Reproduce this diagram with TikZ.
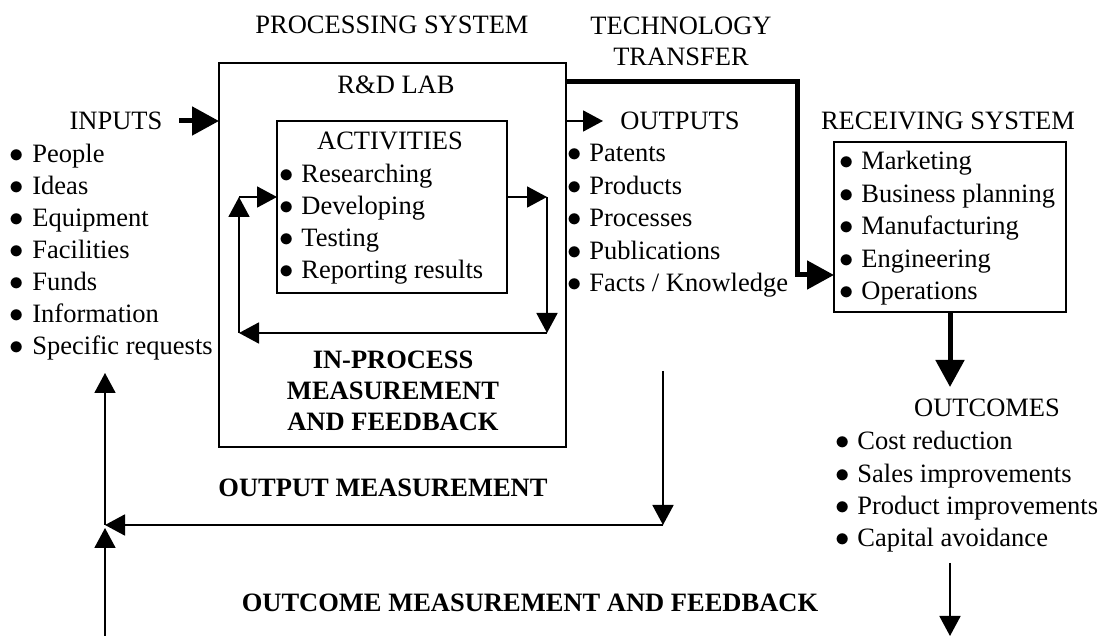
\documentclass[tikz,border=0pt]{standalone}
\usepackage{fontspec}
\setmainfont{Liberation Serif}
\usepackage{tikz}
\usetikzlibrary{arrows.meta, positioning}

\newcommand{\labelfont}{\fontsize{13.25}{16}\selectfont}
\newcommand{\headfont}{\fontsize{13.25}{15.5}\selectfont\bfseries}
\newcommand{\bul}{$\bullet$\hspace{4pt}}

\tikzset{
  box/.style={draw, line width=0.9pt, inner sep=0pt},
  lightarrow/.style={line width=0.9pt, -{Triangle[length=10pt,width=10.5pt]}},
  heavyarrow/.style={line width=2.5pt, -{Triangle[length=13.5pt,width=14pt]}},
  item/.style={anchor=base west},
  title/.style={anchor=base}
}

\begin{document}
\begin{tikzpicture}[x=0.5pt, y=-0.5pt,
    every node/.style={inner sep=0pt, outer sep=0pt, font=\labelfont}]
  \useasboundingbox (0,0) rectangle (1105,636);

  \node[box, minimum width=173.5pt, minimum height=192pt] (lab) at (392.5,255) {};
  \node[box, minimum width=115pt, minimum height=86pt] (act) at (392,207) {};
  \node[box, minimum width=116pt, minimum height=85pt] (recv) at (950,227) {};

  \node[title] (proc) at (392,34) {PROCESSING SYSTEM};
  \node[align=center, font=\fontsize{13.25}{15.5}\selectfont] (tech) at (681,41) {TECHNOLOGY\\TRANSFER};
  \node[title] (rd) at (396,94) {R\&D LAB};
  \node[title] (inputs) at (116,130) {INPUTS};
  \node[title] (outputs) at (680,130) {OUTPUTS};
  \node[title] (recvtitle) at (948,130) {RECEIVING SYSTEM};
  \node[title] (activ) at (390,150) {ACTIVITIES};
  \node[title] (outcomes) at (987,417) {OUTCOMES};
  \node[align=center, font=\headfont] (inproc) at (393,391) {IN-PROCESS\\MEASUREMENT\\AND FEEDBACK};
  \node[title, font=\headfont] (outmeas) at (383,497) {OUTPUT MEASUREMENT};
  \node[title, font=\headfont] (outcmeas) at (530,611) {OUTCOME MEASUREMENT AND FEEDBACK};

  \foreach \txt [count=\i from 0] in {People, Ideas, Equipment, Facilities, Funds, Information, Specific requests}
    \node[item] (in\i) at (10,163+32*\i) {\bul\txt};
  \foreach \txt [count=\i from 0] in {Researching, Developing, Testing, Reporting results}
    \node[item] (ac\i) at (279,183+32*\i) {\bul\txt};
  \foreach \txt [count=\i from 0] in {Patents, Products, Processes, Publications, Facts / Knowledge}
    \node[item] (out\i) at (567,162+32.5*\i) {\bul\txt};
  \foreach \txt [count=\i from 0] in {Marketing, Business planning, Manufacturing, Engineering, Operations}
    \node[item] (rc\i) at (839,170+32.5*\i) {\bul\txt};
  \foreach \txt [count=\i from 0] in {Cost reduction, Sales improvements, Product improvements, Capital avoidance}
    \node[item] (oc\i) at (835,450+32.3*\i) {\bul\txt};

  \coordinate (inA) at (179,121);
  \coordinate (outA) at (603,121);
  \coordinate (ttB) at (797,275);
  \coordinate (lNE) at (547,197);
  \coordinate (lSE) at (547,333);
  \coordinate (lSW) at (239,333);
  \coordinate (lNW) at (239,197);
  \coordinate (rcA) at (950,387);
  \coordinate (ocA) at (950,563);
  \coordinate (ocB) at (950,636);
  \coordinate (omA) at (663,371);
  \coordinate (omB) at (663,525);
  \coordinate (fbA) at (105,525);
  \coordinate (fbB) at (105,373);
  \coordinate (fbC) at (105,636);
  \coordinate (fbD) at (105,528);

  \draw[heavyarrow] (inA) -- (inA -| lab.west);
  \draw[heavyarrow] (lab.east |- 0,82) -| (ttB) -- (ttB -| recv.west);
  \draw[lightarrow] (lab.east |- outA) -- (outA);
  \draw[heavyarrow] (recv.south) -- (rcA);
  \draw[lightarrow] (ocA) -- (ocB);

  \draw[lightarrow] (act.east |- lNE) -- (lNE);
  \draw[lightarrow] (lNE) -- (lSE);
  \draw[lightarrow] (lSE) -- (lSW);
  \draw[lightarrow] (lSW) -- (lNW);
  \draw[lightarrow] (lNW) -- (act.west |- lNW);

  \draw[lightarrow] (omA) -- (omB);
  \draw[lightarrow] (omB) -- (fbA);
  \draw[lightarrow] (fbA) -- (fbB);
  \draw[lightarrow] (fbC) -- (fbD);
\end{tikzpicture}
\end{document}
